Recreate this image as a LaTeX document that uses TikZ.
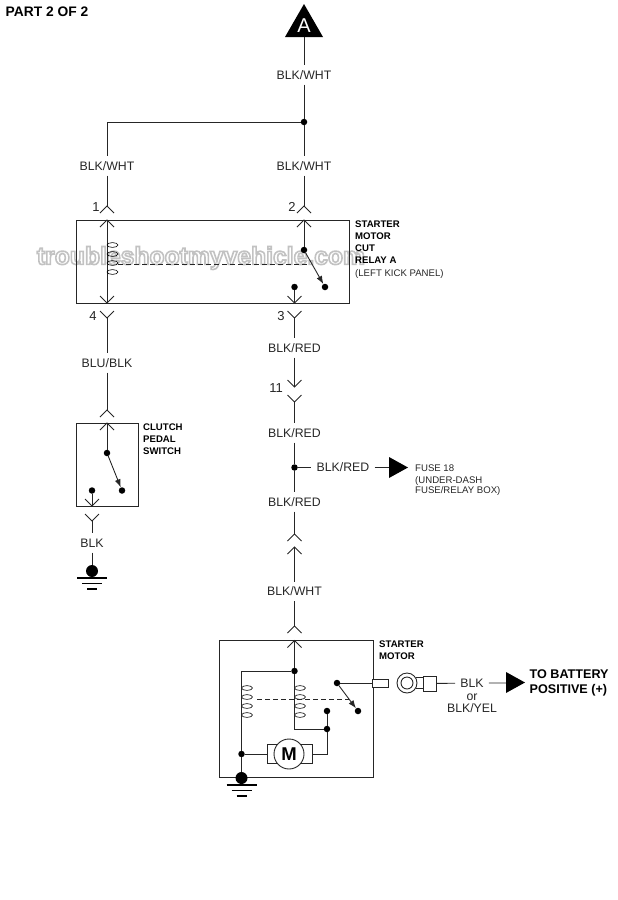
\documentclass[tikz,border=0pt]{standalone}
\usepackage{fontspec}
\setmainfont{Liberation Sans}
\usetikzlibrary{arrows.meta}

\definecolor{wirecol}{gray}{0.15}

\tikzset{
  wire/.style={draw=wirecol,line width=.9pt},
  wirelabel/.style={font=\fontsize{12.3}{12.3}\selectfont,text=black!85,text height=8.8pt,text depth=0pt,inner xsep=5pt,inner ysep=5pt},
  pinlabel/.style={font=\fontsize{13}{13}\selectfont,text=black!85,inner sep=0pt},
  sidelabel/.style={font=\fontsize{9.6}{9.6}\selectfont\bfseries,anchor=west,inner sep=0pt,text height=6.9pt,text depth=0pt},
  notelabel/.style={font=\fontsize{9.6}{9.6}\selectfont,text=black!85,anchor=west,inner sep=0pt,text height=6.9pt,text depth=0pt},
  dot/.style={circle,fill=black,inner sep=0pt,minimum size=6.5pt},
  grounddot/.style={circle,fill=black,inner sep=0pt,minimum size=12pt},
  blade/.style={wire,-{Latex[length=8pt,width=6pt]}},
  chevup/.pic={\draw[wire] (-7,7) -- (0,0) -- (7,7);},
  chevdown/.pic={\draw[wire] (-7,-7) -- (0,0) -- (7,-7);},
  groundbars/.pic={
    \draw[line width=1.9pt] (-15,0) -- (15,0);
    \draw[line width=1.9pt] (-10,5.5) -- (10,5.5);
    \draw[line width=1.9pt] (-5,11) -- (5,11);},
  coil/.pic={
    \foreach \yy in {0,9,18,27}
      \draw[line width=.6pt] (5.5,\yy) ellipse (5.5 and 2.4);},
}

\begin{document}
\begin{tikzpicture}[x=1pt,y=-1pt]
  \useasboundingbox (0,0) rectangle (618,900);

  % watermark
  \node (mark) at (201,258) {\fontsize{24.7}{24.7}\selectfont\bfseries
    \special{pdf:code 2 Tr 1.6 w 0.76 0.76 0.76 RG 1 1 1 rg}troubleshootmyvehicle.com\special{pdf:code 0 Tr 0 0 0 RG 0 0 0 rg}};

  \node[font=\fontsize{13.8}{13.8}\selectfont\bfseries,anchor=west,inner sep=0pt] (title) at (5.5,11.5) {PART 2 OF 2};

  % boxes
  \draw[wire] (76,220) rectangle (349,303);
  \draw[wire] (76,423) rectangle (138,506);
  \draw[wire] (219,640.5) rectangle (373,777);

  % plugs
  \coordinate (p2a) at (304,206);   \coordinate (p2b) at (304,220);
  \coordinate (p1a) at (107,206);   \coordinate (p1b) at (107,220);
  \coordinate (p4a) at (107,303);   \coordinate (p4b) at (107,318);
  \coordinate (p3a) at (294.5,303); \coordinate (p3b) at (294.5,318);
  \coordinate (p11a) at (294.5,387); \coordinate (p11b) at (294.5,402);
  \coordinate (p5a) at (294.5,534); \coordinate (p5b) at (294.5,547);
  \coordinate (p6a) at (294.5,626); \coordinate (p6b) at (294.5,640.5);
  \coordinate (p7a) at (107,410);   \coordinate (p7b) at (107,423);
  \coordinate (p8a) at (92,506);    \coordinate (p8b) at (92,521);

  \foreach \pp in {p2a,p2b,p1a,p1b,p5a,p5b,p6a,p6b,p7a,p7b}
    \pic at (\pp) {chevup};
  \foreach \pp in {p4a,p3a,p11a,p8a}
    \pic at (\pp) {chevdown};
  \foreach \pp in {p4b,p3b,p11b,p8b}
    \pic at (\pp) {chevdown};

  % pin numbers
  \node[pinlabel] (n1) at (96,207) {1};
  \node[pinlabel] (n2) at (292,207) {2};
  \node[pinlabel] (n4) at (93,316) {4};
  \node[pinlabel] (n3) at (281,316) {3};
  \node[pinlabel] (n11) at (276,388) {11};

  % top of the circuit
  \coordinate (tl) at (285,37);
  \coordinate (tr) at (323,37);
  \coordinate (ttop) at (304,4);
  \coordinate (tbase) at (304,37);
  \fill (tl) -- (ttop) -- (tr) -- cycle;
  \node[font=\fontsize{20}{20}\selectfont,text=white,inner sep=0pt] (tA) at (304,25.5) {A};

  \node[dot] (j1) at (304,122) {};
  \coordinate (c1) at (107,122);

  \begin{scope}[every node/.style={wirelabel}]
    \node (w1) at (304,75) {BLK/WHT};
    \node (w2) at (107,166) {BLK/WHT};
    \node (w3) at (304,166) {BLK/WHT};
    \node (w4) at (107,363) {BLU/BLK};
    \node (w5) at (294.5,348) {BLK/RED};
    \node (w6) at (294.5,433) {BLK/RED};
    \node (w7) at (343,467.5) {BLK/RED};
    \node (w8) at (294.5,502) {BLK/RED};
    \node (w9) at (294.5,591.5) {BLK/WHT};
    \node (w10) at (92,543) {BLK};
    \node (w11) at (472,683) {BLK};
  \end{scope}

  \draw[wire] (tbase) -- (w1) -- (j1) -- (w3) -- (p2a);
  \draw[wire] (j1) -- (c1) -- (w2) -- (p1a);

  % relay
  \draw[wire] (p1b) -- (p4a);
  \pic at (107,245) {coil};
  \draw[wire,dashed,line width=.6pt,dash pattern=on 5pt off 3pt] (118,264) -- (308,264);
  \node[dot] (r1) at (304,250) {};
  \node[dot] (r2) at (325,287) {};
  \node[dot] (r3) at (294.5,287) {};
  \draw[wire] (p2b) -- (r1);
  \draw[blade] (r1) -- (r2);
  \draw[wire] (r3) -- (p3a);

  % run to the starter
  \node[dot] (j2) at (294.5,467.5) {};
  \draw[wire] (p3b) -- (w5) -- (p11a);
  \draw[wire] (p11b) -- (w6) -- (j2) -- (w8) -- (p5a);
  \draw[wire] (p5b) -- (w9) -- (p6a);

  \coordinate (fl) at (389,457);
  \coordinate (fr) at (408,467.5);
  \coordinate (fb) at (389,478);
  \coordinate (fm) at (389,467.5);
  \fill (fl) -- (fr) -- (fb) -- cycle;
  \draw[wire] (j2) -- (w7) -- (fm);

  % clutch switch
  \draw[wire] (p4b) -- (w4) -- (p7a);
  \node[dot] (s1) at (107,453) {};
  \node[dot] (s2) at (122,490.5) {};
  \node[dot] (s3) at (92,490.5) {};
  \draw[wire] (p7b) -- (s1);
  \draw[blade] (s1) -- (s2);
  \draw[wire] (s3) -- (p8a);
  \node[grounddot] (g1) at (92,571) {};
  \draw[wire] (p8b) -- (w10) -- (g1);
  \pic at (92,578) {groundbars};

  % starter motor
  \node[dot] (m1) at (294.5,671) {};
  \node[dot] (m2) at (241.5,754) {};
  \node[dot] (m3) at (327,729) {};
  \node[dot] (m4) at (327,711) {};
  \node[dot] (m5) at (337,683) {};
  \node[dot] (m6) at (358,711) {};
  \node[grounddot] (g2) at (241.5,778) {};
  \coordinate (c2) at (241.5,671);
  \coordinate (c3) at (294.5,729);
  \coordinate (c4) at (327,754);
  \coordinate (c5) at (312,754);
  \pic at (241.5,688) {coil};
  \pic at (294.5,688) {coil};
  \draw[wire] (p6b) -- (m1) -- (c2) -- (m2) -- (g2);
  \draw[wire] (m1) -- (c3) -- (m3) -- (m4);
  \draw[wire,dashed,dash pattern=on 5pt off 3pt] (257,699) -- (349,699);
  \draw[blade] (m5) -- (m6);

  \node[draw=wirecol,line width=.9pt,minimum width=45pt,minimum height=19pt,inner sep=0pt] (mbody) at (289.5,754) {};
  \node[circle,draw=wirecol,fill=white,line width=.9pt,minimum size=30pt,inner sep=0pt,font=\fontsize{18.5}{18.5}\selectfont\bfseries] (mot) at (289,754) {M};
  \draw[wire] (m2) -- (mbody);
  \draw[wire] (c5) -- (c4) -- (m3);
  \pic at (241.5,785) {groundbars};

  % battery lead
  \node[draw=wirecol,line width=.9pt,fill=white,minimum width=16pt,minimum height=8pt,inner sep=0pt] (stub) at (380,683) {};
  \draw[wire] (m5) -- (stub);
  \node[circle,draw=wirecol,line width=.9pt,minimum size=20pt,inner sep=0pt] (ring) at (407,683) {};
  \node[circle,draw=wirecol,line width=.9pt,minimum size=12pt,inner sep=0pt] (hole) at (407,683) {};
  \node[draw=wirecol,line width=.9pt,minimum width=13pt,minimum height=15pt,inner sep=0pt] (lug) at (429.5,683.5) {};
  \draw[wire] (ring.30) -- (lug.west |- ring.30);
  \draw[wire] (ring.-30) -- (lug.west |- ring.-30);
  \coordinate (bl) at (506,672);
  \coordinate (br) at (525,682.5);
  \coordinate (bb) at (506,693);
  \coordinate (bm) at (506,683);
  \fill (bl) -- (br) -- (bb) -- cycle;
  \draw[wire] (lug) -- (w11) -- (bm);
  \node[wirelabel,inner sep=0pt] (w12) at (472,696) {or};
  \node[wirelabel,inner sep=0pt] (w13) at (472,708.5) {BLK/YEL};

  % side texts
  \begin{scope}[every node/.style={sidelabel}]
    \node (a1) at (355,224) {STARTER};
    \node (a2) at (355,236) {MOTOR};
    \node (a3) at (355,248) {CUT};
    \node (a4) at (355,260) {RELAY A};
    \node (b1) at (143,427) {CLUTCH};
    \node (b2) at (143,439) {PEDAL};
    \node (b3) at (143,451) {SWITCH};
    \node (d1) at (379,644) {STARTER};
    \node (d2) at (379,656) {MOTOR};
  \end{scope}
  \begin{scope}[every node/.style={notelabel}]
    \node (a5) at (355,273) {(LEFT KICK PANEL)};
    \node (f1) at (415,468) {FUSE 18};
    \node (f2) at (415,480) {(UNDER-DASH};
    \node (f3) at (415,490) {FUSE/RELAY BOX)};
  \end{scope}
  \node[font=\fontsize{12.6}{12.6}\selectfont\bfseries,anchor=west,inner sep=0pt] (t1) at (529.5,674) {TO BATTERY};
  \node[font=\fontsize{12.6}{12.6}\selectfont\bfseries,anchor=west,inner sep=0pt] (t2) at (529.5,690) {POSITIVE (+)};

\end{tikzpicture}
\end{document}
